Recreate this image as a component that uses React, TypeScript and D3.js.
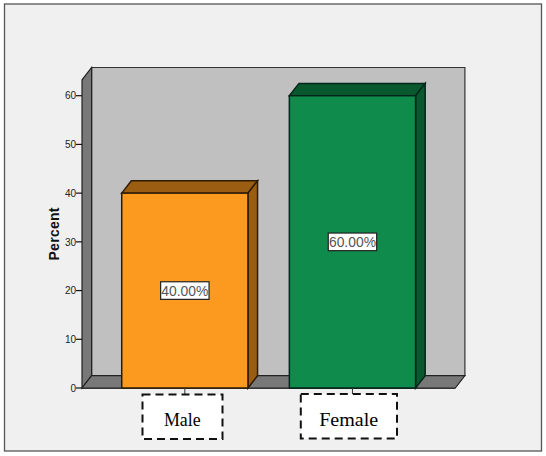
import React from "react";
import * as d3 from "d3";

const categories = ["Male", "Female"];
const percents = [40, 60];
const valueLabels = ["40.00%", "60.00%"];
const yTicks = [0, 10, 20, 30, 40, 50, 60];
const barFronts = ["#fb9a1e", "#0f8c4b"];
const barShades = ["#9a5d12", "#0a592e"];
const barStrokes = ["#2e1c06", "#05261a"];

const plotLeft = 82;
const plotRight = 455.3;
const y = d3.scaleLinear().domain([0, 60]).range([388, 95.7]);
const x = d3.scaleBand<string>().domain(categories).range([plotLeft, plotRight]).paddingInner(0.247).paddingOuter(0.237);
const DX = 9.6;
const DY = -12.3;
const yTop = 79.8;

const poly = (pts: [number, number][]) => d3.line()(pts) + "Z";
const labelBoxes = [
  { x: 142.5, y: 394.5, w: 80, h: 44.5, tx: 182.3, tw: 36.7, fs: 18 },
  { x: 300.8, y: 394, w: 96.2, h: 44.5, tx: 348.7, tw: 59, fs: 18.5 },
];

export default function App() {
  const y0 = y(0);
  return (
    <svg width={546} height={456} style={{ position: "absolute", left: 0, top: 0 }}>
      <rect width={546} height={456} fill="#ffffff" />
      <rect x={4.5} y={4} width={537} height={447} fill="#f0f0f0" stroke="#555" strokeWidth={1.3} />
      <path d={poly([[plotLeft + DX, yTop + DY], [plotRight + DX, yTop + DY], [plotRight + DX, y0 + DY], [plotLeft + DX, y0 + DY]])} fill="#c0c0c0" stroke="#333" strokeWidth={1.2} />
      <path d={poly([[plotLeft, yTop], [plotLeft + DX, yTop + DY], [plotLeft + DX, y0 + DY], [plotLeft, y0]])} fill="#787878" stroke="#222" strokeWidth={1.2} />
      <path d={poly([[plotLeft, y0], [plotLeft + DX, y0 + DY], [plotRight + DX, y0 + DY], [plotRight, y0]])} fill="#787878" stroke="#222" strokeWidth={1.2} />
      <line x1={plotLeft} x2={plotRight} y1={y0 + 0.5} y2={y0 + 0.5} stroke="#333" strokeWidth={1} />
      {yTicks.map((t) => (
        <g key={t}>
          <line x1={76} x2={plotLeft} y1={y(t)} y2={y(t)} stroke="#111" strokeWidth={1.2} />
          <text x={76} y={y(t)! + 3.7} textAnchor="end" fontFamily="Liberation Sans, Arial, sans-serif" fontSize={10} fill="#222">{t}</text>
        </g>
      ))}
      <text transform="translate(58.5,234) rotate(-90)" textAnchor="middle" fontFamily="Liberation Sans, Arial, sans-serif" fontSize={14} fontWeight="bold" fill="#111" textLength={53}>Percent</text>
      {categories.map((c, i) => {
        const l = x(c)!;
        const r = l + x.bandwidth();
        const t = y(percents[i])!;
        const cx = (l + r) / 2;
        const cy = (t + y0) / 2;
        const box = labelBoxes[i];
        return (
          <g key={c}>
            <path d={poly([[l, t], [l + DX, t + DY], [r + DX, t + DY], [r, t]])} fill={barShades[i]} stroke={barStrokes[i]} strokeWidth={1.5} />
            <path d={poly([[r, t], [r + DX, t + DY], [r + DX, y0 + DY], [r, y0]])} fill={barShades[i]} stroke={barStrokes[i]} strokeWidth={1.5} />
            <rect x={l} y={t} width={r - l} height={y0 - t} fill={barFronts[i]} stroke={barStrokes[i]} strokeWidth={1.5} />
            <rect x={cx - 24.2} y={cy - 8.8} width={48.4} height={17.6} fill="#fff" stroke="#222" strokeWidth={1.2} />
            <text x={cx} y={cy + 5} textAnchor="middle" fontFamily="Liberation Sans, Arial, sans-serif" fontSize={14} fill="#555" textLength={47} lengthAdjust="spacingAndGlyphs">{valueLabels[i]}</text>
            <line x1={cx} x2={cx} y1={y0} y2={box.y} stroke="#333" strokeWidth={1} />
            <rect x={box.x} y={box.y} width={box.w} height={box.h} fill="#fff" stroke="#111" strokeWidth={2} strokeDasharray="8 5" />
            <text x={box.tx} y={426} textAnchor="middle" fontFamily="Liberation Serif, Times New Roman, serif" fontSize={box.fs} fill="#000" textLength={box.tw} lengthAdjust="spacingAndGlyphs">{c}</text>
          </g>
        );
      })}
    </svg>
  );
}
